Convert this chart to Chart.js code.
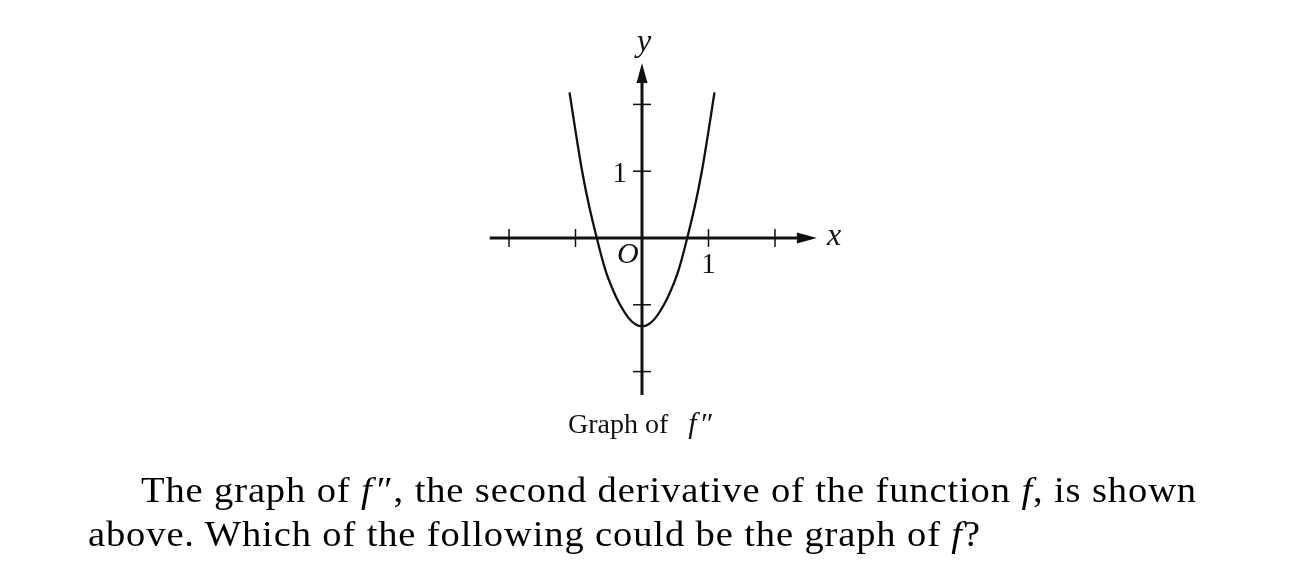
<!DOCTYPE html>
<html>
<head>
<meta charset="utf-8">
<script src="https://cdn.jsdelivr.net/npm/chart.js@4.4.1/dist/chart.umd.min.js"></script>
<style>
  html, body { margin: 0; padding: 0; background: #ffffff; }
  #wrap { position: relative; width: 1289px; height: 580px; overflow: hidden; }
  #c { position: absolute; left: 0; top: 0; }
  .cap { position: absolute; font-family: "Liberation Serif", "Times New Roman", serif; color: #111; white-space: nowrap; line-height: 1; }
  .cap i { font-style: italic; }
  #graphOf { left: 568px; top: 408px; font-size: 28px; }
  #graphOf .fpp { margin-left: 20px; font-size: 30px; }
  .para { font-size: 36px; color: #000; transform-origin: 0 0; }
  #line1 { left: 141px; top: 472px; }
  #line2 { left: 88px; top: 516px; }
</style>
</head>
<body>
<div id="wrap">
  <canvas id="c" width="1289" height="580"></canvas>
  <div id="graphOf" class="cap">Graph of<i class="fpp">f&#8202;″</i></div>
  <div id="line1" class="cap para">The graph of <i>f</i>&#8202;″, the second derivative of the function <i>f</i>, is shown</div>
  <div id="line2" class="cap para">above. Which of the following could be the graph of <i>f</i>?</div>
</div>
<script>
// ---- data ----
const curveX = [-1.09, -0.99, -0.90, -0.80, -0.68, -0.55, -0.44, -0.33, -0.20, -0.10, 0.00, 0.10, 0.20, 0.33, 0.44, 0.55, 0.68, 0.80, 0.90, 0.99, 1.09];
const curveY = [ 2.18,  1.54,  1.00,  0.50,  0.00, -0.48, -0.77, -1.00, -1.20, -1.29, -1.32, -1.29, -1.20, -1.00, -0.77, -0.48, 0.00, 0.50, 1.00, 1.54, 2.18];
const xTicks = [-2, -1, 1, 2];
const yTicks = [2, 1, -1, -2];
const xAxisRange = [-2.29, 2.63];
const yAxisRange = [-2.35, 2.62];
const xTickLabels = [{ v: 1, t: "1" }];
const yTickLabels = [{ v: 1, t: "1" }];

const points = curveX.map((x, i) => ({ x: x, y: curveY[i] }));

const axesPlugin = {
  id: 'mathAxes',
  beforeDatasetsDraw(chart) {
    const ctx = chart.ctx;
    const xs = chart.scales.x, ys = chart.scales.y;
    const X = v => xs.getPixelForValue(v);
    const Y = v => ys.getPixelForValue(v);
    const x0 = X(0), y0 = Y(0);
    ctx.save();
    ctx.strokeStyle = '#111';
    ctx.fillStyle = '#111';
    // x axis
    const xl = X(xAxisRange[0]), xr = X(xAxisRange[1]);
    ctx.lineWidth = 3;
    ctx.beginPath();
    ctx.moveTo(xl, y0); ctx.lineTo(xr - 16, y0);
    ctx.stroke();
    ctx.beginPath();
    ctx.moveTo(xr, y0); ctx.lineTo(xr - 20, y0 - 5.5); ctx.lineTo(xr - 20, y0 + 5.5); ctx.closePath();
    ctx.fill();
    // y axis
    const yb = Y(yAxisRange[0]), yt = Y(yAxisRange[1]);
    ctx.beginPath();
    ctx.moveTo(x0, yb); ctx.lineTo(x0, yt + 16);
    ctx.stroke();
    ctx.beginPath();
    ctx.moveTo(x0, yt); ctx.lineTo(x0 - 5.5, yt + 20); ctx.lineTo(x0 + 5.5, yt + 20); ctx.closePath();
    ctx.fill();
    // ticks
    ctx.lineWidth = 1.5;
    xTicks.forEach(v => {
      ctx.beginPath(); ctx.moveTo(X(v), y0 - 9); ctx.lineTo(X(v), y0 + 9); ctx.stroke();
    });
    yTicks.forEach(v => {
      ctx.beginPath(); ctx.moveTo(x0 - 9, Y(v)); ctx.lineTo(x0 + 9, Y(v)); ctx.stroke();
    });
    // labels
    ctx.font = '29px "Liberation Serif", serif';
    ctx.textBaseline = 'alphabetic';
    ctx.textAlign = 'right';
    yTickLabels.forEach(l => ctx.fillText(l.t, x0 - 15, Y(l.v) + 11));
    ctx.textAlign = 'center';
    xTickLabels.forEach(l => ctx.fillText(l.t, X(l.v), y0 + 35));
    ctx.font = 'italic 30px "Liberation Serif", serif';
    ctx.textAlign = 'left';
    ctx.fillText('O', x0 - 25, y0 + 25);
    ctx.font = 'italic 32px "Liberation Serif", serif';
    ctx.fillText('x', xr + 10, y0 + 7);
    ctx.textAlign = 'center';
    ctx.fillText('y', x0 + 2, yt - 12);
    ctx.restore();
  }
};

new Chart(document.getElementById('c'), {
  type: 'scatter',
  data: {
    datasets: [{
      data: points,
      showLine: true,
      borderColor: '#111',
      borderWidth: 2.3,
      pointRadius: 0,
      tension: 0.4,
      fill: false
    }]
  },
  options: {
    responsive: false,
    animation: false,
    events: [],
    layout: { padding: 0 },
    plugins: { legend: { display: false }, tooltip: { enabled: false }, title: { display: false } },
    scales: {
      x: { type: 'linear', display: false, min: -642 / 66.5, max: 647 / 66.5 },
      y: { type: 'linear', display: false, min: -342 / 66.8, max: 238 / 66.8 }
    }
  },
  plugins: [axesPlugin]
});

// widen paragraph lines to the reference width: a slight horizontal stretch plus letter spacing
(function fit() {
  const l1 = document.getElementById('line1');
  const l2 = document.getElementById('line2');
  const sx = 1.07;
  const w = l1.getBoundingClientRect().width * sx;
  const n = l1.textContent.length;
  const ls = (1056 - w) / (n * sx);
  [l1, l2].forEach(el => {
    el.style.letterSpacing = ls + 'px';
    el.style.transform = 'scaleX(' + sx + ')';
  });
})();
</script>
</body>
</html>
